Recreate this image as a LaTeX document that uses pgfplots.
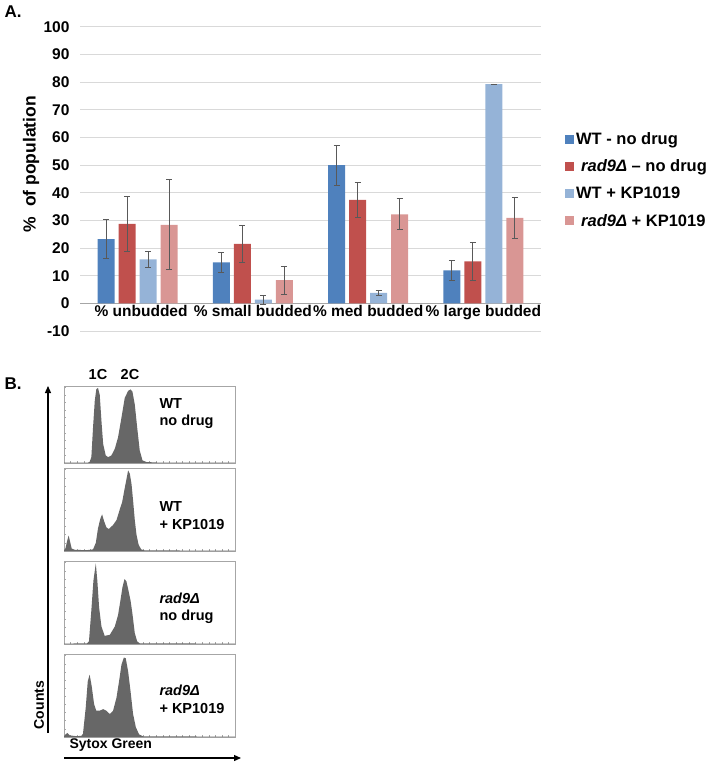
\documentclass[border=0pt]{standalone}
\usepackage{pgfplots}
\pgfplotsset{compat=1.18}
\usetikzlibrary{arrows.meta}
\usepackage{fontspec}
\setmainfont{Liberation Sans}
\definecolor{cA}{HTML}{4F81BD}
\definecolor{cB}{HTML}{C0504D}
\definecolor{cC}{HTML}{95B3D7}
\definecolor{cD}{HTML}{D99694}
\definecolor{errc}{HTML}{595959}
\definecolor{gridc}{HTML}{D9D9D9}
\definecolor{histc}{HTML}{676767}
\definecolor{boxc}{HTML}{A6A6A6}
\newcommand{\fs}[1]{\fontsize{#1bp}{#1bp}\selectfont\bfseries}
\pgfplotsset{
  errstyle/.style={error bars/.cd, y dir=both, y explicit,
    error bar style={color=errc, line width=0.8bp},
    error mark options={rotate=90, mark size=3bp, color=errc, line width=0.8bp}},
  histax/.style={scale only axis, width=171bp, xmin=0, xmax=100, ymin=0, ymax=102,
    axis line style={boxc, line width=0.6bp},
    xtick={0,3.85,...,100}, ytick={0,10,...,100},
    xticklabels={}, yticklabels={}, tick align=inside,
    major tick length=2bp, tick style={boxc, line width=0.5bp},
    xtick pos=bottom, ytick pos=left, clip=true},
}
\begin{document}
\begin{tikzpicture}
\path[use as bounding box] (0,0) rectangle (710bp,-766bp);
% ---------------- Panel A ----------------
\begin{axis}[
  at={(80bp,-331bp)}, anchor=south west, scale only axis,
  width=461bp, height=304.3bp,
  ymin=-10, ymax=100, xmin=-0.5, xmax=3.5,
  ytick={-10,0,...,100}, ymajorgrids, grid style={gridc, line width=0.8bp},
  xtick=\empty, axis line style={draw=none}, major tick length=0pt,
  /pgf/number format/assume math mode=true,
  yticklabel style={font=\fs{15.5}, xshift=-7bp},
  ybar=4bp, bar width=17bp,
  legend style={at={(1.052,0.66)}, anchor=north west, draw=none, fill=none,
    font=\fs{16.5}, row sep=10bp, inner sep=0pt},
  legend cell align=left,
  legend image code/.code={\fill[#1, draw=none] (0bp,-4.5bp) rectangle (9bp,4.5bp);},
]
\draw[color=boxc, line width=0.8bp] (axis cs:-0.5,0) -- (axis cs:3.5,0);
\addplot[fill=cA, draw=none, errstyle] coordinates {
  (0,23.2) +- (0,7.1) (1,14.8) +- (0,3.5) (2,50.0) +- (0,7.2) (3,11.9) +- (0,3.5)};
\addplot[fill=cB, draw=none, errstyle] coordinates {
  (0,28.7) +- (0,9.8) (1,21.5) +- (0,6.8) (2,37.4) +- (0,6.4) (3,15.2) +- (0,6.9)};
\addplot[fill=cC, draw=none, errstyle] coordinates {
  (0,15.9) +- (0,2.9) (1,1.3) +- (0,1.7) (2,3.8) +- (0,1.0) (3,79.2) +- (0,0.1)};
\addplot[fill=cD, draw=none, errstyle] coordinates {
  (0,28.4) +- (0,16.3) (1,8.4) +- (0,5.1) (2,32.2) +- (0,5.6) (3,30.9) +- (0,7.5)};
\legend{WT - no drug, \hspace{5bp}\textit{rad9Δ} – no drug, WT + KP1019, \hspace{5bp}\textit{rad9Δ} + KP1019}
\node[anchor=north, font=\fs{15.5}, inner sep=2bp] at (axis cs:0.03,0) {\% unbudded};
\node[anchor=north, font=\fs{15.5}, inner sep=2bp] at (axis cs:1.0,0) {\% small budded};
\node[anchor=north, font=\fs{15.5}, inner sep=2bp] at (axis cs:2.0,0) {\% med budded};
\node[anchor=north, font=\fs{15.5}, inner sep=2bp] at (axis cs:3.0,0) {\% large budded};
\end{axis}
\node[font=\fs{17}, anchor=west] at (1bp,-12bp) {A.};
\node[rotate=90, font=\fs{17.5}] at (31bp,-164bp) {\%\ \ of population};
% ---------------- Panel B ----------------
\node[font=\fs{17}, anchor=west] at (1bp,-384bp) {B.};
\node[font=\fs{14.5}] at (98bp,-375bp) {1C};
\node[font=\fs{14.5}] at (130bp,-375bp) {2C};
\begin{axis}[histax, at={(64bp,-386bp)}, anchor=north west, height=77bp]
\addplot[fill=histc, draw=none] coordinates {
 (0,0) (0,0.5) (14,0.5) (15,1.5) (16,7.8) (17,47.8) (18,82.6) (18.9,97.8) (19.9,99.5)
 (20.9,90.4) (21.9,55.6) (22.9,25.2) (24.4,10) (25.8,7.8) (27.7,10) (29.7,18.7)
 (31.6,33.9) (33.6,60) (35.5,86) (37.5,95.6) (38.9,97.4) (40,94.8) (41.4,77.4)
 (42.8,47) (44.3,16.5) (45.9,3.5) (48.2,1.3) (55,0.6) (100,0.5) (100,0)} --cycle;
\end{axis}
\begin{axis}[histax, at={(64bp,-468bp)}, anchor=north west, height=83bp]
\addplot[fill=histc, draw=none] coordinates {
 (0,0) (0,1) (0.8,3) (1.8,12) (2.7,19) (3.5,12) (4.5,3) (6.3,1.5) (13.1,1) (17,2)
 (18.6,10) (19.9,28) (21.3,40) (22.3,45) (23.4,37) (24.8,29) (26.2,27) (28.7,32)
 (30.7,38) (32.6,51) (34,60) (35.4,76) (36.5,88) (37.5,99) (38.5,95) (39.5,82)
 (40.4,62) (41.4,38) (42.4,20) (43.6,8) (45.1,2) (47.3,0.7) (100,0.5) (100,0)} --cycle;
\end{axis}
\begin{axis}[histax, at={(64bp,-561bp)}, anchor=north west, height=83bp]
\addplot[fill=histc, draw=none] coordinates {
 (0,0) (0,0.5) (13.5,0.8) (14.6,3.2) (16,41.5) (17.2,77.8) (18.6,99) (19.5,77.8)
 (20.5,45.6) (21.9,21.4) (23.8,10) (26.8,11.3) (29.7,21.4) (31.6,35.5) (33,53.6)
 (34.2,69.8) (35.4,79.8) (36.5,77) (37.7,65.7) (38.9,53.6) (40,37.5) (41.4,13.3)
 (42.8,3.2) (44.3,0.8) (100,0.5) (100,0)} --cycle;
\end{axis}
\begin{axis}[histax, at={(64bp,-654bp)}, anchor=north west, height=83bp]
\addplot[fill=histc, draw=none] coordinates {
 (0,0) (0,1) (0.8,3) (2,5) (3.3,2) (7.2,1) (10.2,1.5) (11.1,4) (12.7,36) (13.9,68.5)
 (15,76.6) (16.2,62.5) (17.6,40.3) (18.9,32.3) (20.9,32.3) (22.9,34.3) (24.8,32.3)
 (26.8,28.2) (28.7,32.3) (30.7,48.4) (32.2,68.5) (33.6,88.7) (35,97.6) (36.1,96.8)
 (37.5,80.6) (38.9,56.5) (40.4,28.2) (42,12.1) (43.9,3.2) (46.3,0.8) (100,0.5) (100,0)} --cycle;
\end{axis}
\node[font=\fs{14.5}, anchor=west] at (156bp,-404bp) {WT};
\node[font=\fs{14.5}, anchor=west] at (156bp,-422bp) {no drug};
\node[font=\fs{14.5}, anchor=west] at (156bp,-507bp) {WT};
\node[font=\fs{14.5}, anchor=west] at (156bp,-525bp) {+ KP1019};
\node[font=\fs{14.5}, anchor=west] at (156bp,-598bp) {\textit{rad9Δ}};
\node[font=\fs{14.5}, anchor=west] at (156bp,-617bp) {no drug};
\node[font=\fs{14.5}, anchor=west] at (156bp,-690bp) {\textit{rad9Δ}};
\node[font=\fs{14.5}, anchor=west] at (156bp,-708bp) {+ KP1019};
\draw[line width=1.3bp, -{Triangle[length=7bp,width=6bp]}] (48bp,-733bp) -- (48bp,-386bp);
\draw[line width=1.3bp, -{Triangle[length=7bp,width=6bp]}] (64bp,-758bp) -- (241bp,-758bp);
\node[rotate=90, font=\fs{14}] at (39bp,-705bp) {Counts};
\node[font=\fs{14}, anchor=west] at (66bp,-745bp) {Sytox Green};
\end{tikzpicture}
\end{document}
